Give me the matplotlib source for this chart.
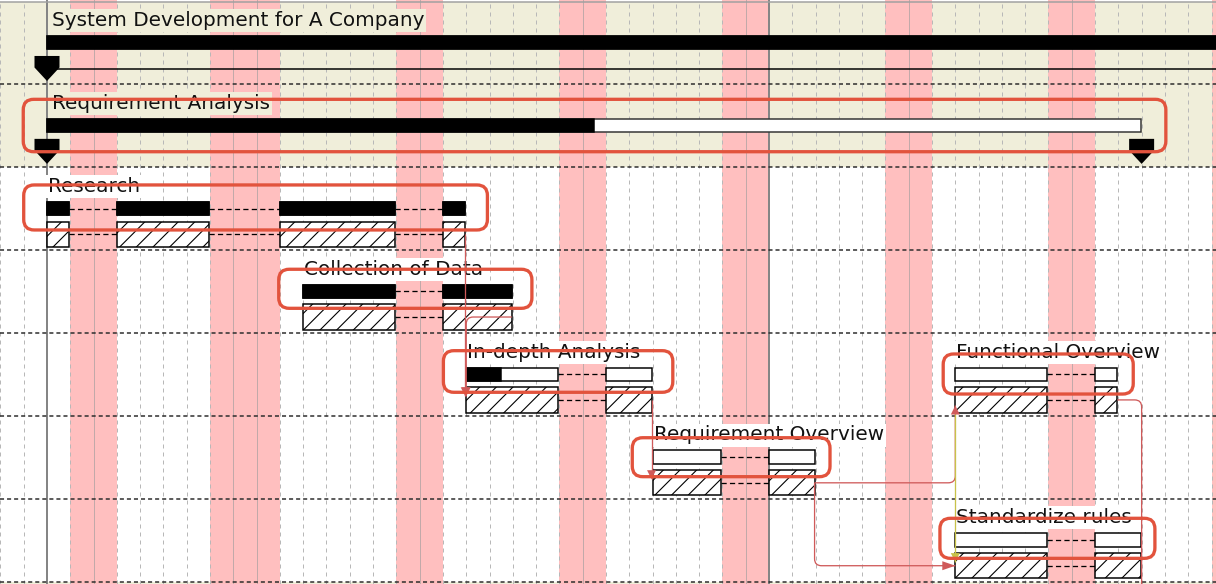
import matplotlib
matplotlib.use("Agg")
import numpy as np
import matplotlib.pyplot as plt
from matplotlib.patches import Rectangle, Polygon, FancyBboxPatch, PathPatch
from matplotlib.path import Path

# calendar: x unit = one day, day 0 = 1st of the month
holidays = [1, 2, 7, 8, 9, 15, 16, 22, 23, 29, 30, 36, 37, 43, 44, 50, 51]
month_starts = [0, 31]
first_day, last_day = -3, 52

# summary rows
summary_names = ["System Development for A Company", "Requirement Analysis"]
summary_rows = [0, 1]
summary_start = [0, 0]
summary_end = [62, 47]
summary_progress = [1.0, 0.5]
summary_marks = [[0], [0, 47]]
summary_baseline = [True, False]

# tasks (length in working days)
task_names = ["Research", "Collection of Data", "In-depth Analysis",
              "Requirement Overview", "Functional Overview", "Standardize rules"]
task_rows = [2, 3, 4, 5, 4, 6]
task_start = [0, 11, 18, 26, 39, 39]
task_days = [11, 7, 6, 5, 5, 6]
task_progress = [1.0, 1.0, 0.25, 0.0, 0.0, 0.0]

# dependencies ("next" = task below the visible area)
link_from = ["Research", "Collection of Data", "In-depth Analysis", "Requirement Overview",
             "Requirement Overview", "Functional Overview", "Functional Overview"]
link_to = ["In-depth Analysis", "In-depth Analysis", "Requirement Overview", "Functional Overview",
           "Standardize rules", "Standardize rules", "next"]
link_kind = ["FS", "FS", "FS", "FS", "FS", "SS", "FS"]
link_route = ["hv", "hv", "hv", "hv", "vh", "hv", "hv"]
link_color = ["#CF5A5A", "#CF5A5A", "#CF5A5A", "#CF5A5A", "#CF5A5A", "#C8C24A", "#CF5A5A"]
next_start, next_row = 47, 8

# hand drawn highlight boxes (days / rows)
hl_x0 = [-1.02, -1.0, 9.95, 17.02, 25.13, 38.48, 38.34]
hl_x1 = [48.04, 18.91, 20.82, 26.87, 33.62, 46.64, 47.57]
hl_y0 = [1.180, 2.213, 3.230, 4.212, 5.262, 4.252, 6.234]
hl_y1 = [1.812, 2.756, 3.701, 4.714, 5.732, 4.735, 6.717]

BEIGE = "#F0EEDA"
PINK = "#FFBFBF"
PX = 1 / 23.29   # one pixel in days
PY = 1 / 82.9    # one pixel in rows
LW = 0.72        # one pixel in points
UP0, UP1 = 0.416, 0.579
LO0, LO1 = 0.654, 0.958
LOM = (LO0 + LO1) / 2

plt.rcParams["hatch.linewidth"] = 0.8

fig = plt.figure(figsize=(12.16, 5.84), dpi=100)
fig.patch.set_facecolor("white")
ax = fig.add_axes([0, 0, 1, 1])
x_left = -47 * PX
y_top = -1.5 * PY
ax.set_xlim(x_left, x_left + 1216 * PX)
ax.set_ylim(y_top + 584 * PY, y_top)
ax.axis("off")

# backgrounds
for r in summary_rows:
    ax.add_patch(Rectangle((first_day, r), last_day - first_day, 1, fc=BEIGE, ec="none", zorder=0))
ax.add_patch(Rectangle((first_day, 7), last_day - first_day, 3, fc=BEIGE, ec="none", zorder=0))
for d in holidays:
    ax.axvspan(d, d + 1, color=PINK, lw=0, zorder=1)

for d in range(first_day, last_day):
    if d in holidays and d - 1 in holidays:
        ax.axvline(d, color="#C2A9A9", lw=LW, zorder=2)
    else:
        ax.axvline(d, color="#B8B8B8", lw=LW, ls=(0, (4, 4)), zorder=2)
for d in month_starts:
    ax.axvline(d, color="#858585", lw=2 * LW, zorder=2.5)

ax.axhline(0, color="#A0A0A0", lw=1.5 * LW, zorder=3)
for r in range(1, 8):
    ax.axhline(r, color="#2A2A2A", lw=1.5 * LW, ls=(0, (2.7, 2)), zorder=3)


def label(x, r, s, bg):
    ax.text(x, r + 24.5 * PY, s, fontsize=14.4, va="baseline", ha="left", color="#111111",
            zorder=4, bbox=dict(boxstyle="square,pad=0.1", fc=bg, ec="none"))


def milestone(x, r):
    w = 12.5 * PX
    pts = [(x - w, r + 0.657), (x + w, r + 0.657), (x + w, r + 0.796), (x, r + 0.959), (x - w, r + 0.796)]
    ax.add_patch(Polygon(pts, closed=True, fc="black", ec="none", zorder=5.5))


def segments(start, days):
    segs, cur, d, left = [], None, start, days
    while left > 0:
        if d in holidays:
            if cur:
                segs.append(cur)
                cur = None
        else:
            if cur is None:
                cur = [d, d + 1]
            else:
                cur[1] = d + 1
            left -= 1
        d += 1
    if cur:
        segs.append(cur)
    return segs


# summary rows
for name, r, s, e, p, marks, base in zip(summary_names, summary_rows, summary_start, summary_end,
                                        summary_progress, summary_marks, summary_baseline):
    label(s + 0.2, r, name, BEIGE)
    ax.add_patch(Rectangle((s, r + UP0), e - s - PX, UP1 - UP0, fc="white", ec="#333333",
                           lw=1.5 * LW, zorder=5))
    ax.add_patch(Rectangle((s, r + UP0), (e - s) * p, UP1 - UP0, fc="black", ec="black",
                           lw=1.5 * LW, zorder=5))
    if base:
        ax.plot([s, e], [r + 0.814] * 2, color="black", lw=1.5 * LW, zorder=5)
    for m in marks:
        milestone(m, r)

# tasks
tasks = {}
for name, r, s, n, p in zip(task_names, task_rows, task_start, task_days, task_progress):
    segs = segments(s, n)
    tasks[name] = dict(row=r, start=segs[0][0], end=segs[-1][1])
    label(s + 0.05, r, name, "white")
    done = n * p
    for i, (a, b) in enumerate(segs):
        ax.add_patch(Rectangle((a, r + UP0), b - a - PX, UP1 - UP0, fc="white", ec="black",
                               lw=1.5 * LW, zorder=5))
        f = min(done, b - a)
        if f > 0:
            ax.add_patch(Rectangle((a, r + UP0), f - (PX if f == b - a else 0), UP1 - UP0,
                                   fc="black", ec="black", lw=1.5 * LW, zorder=5))
        done -= f
        ax.add_patch(Rectangle((a, r + LO0), b - a - PX, LO1 - LO0, fc="white", ec="black",
                               hatch="//", lw=1.5 * LW, zorder=5))
        if i + 1 < len(segs):
            nxt = segs[i + 1][0]
            for y in (r + (UP0 + UP1) / 2, r + LOM):
                ax.plot([b - PX, nxt], [y, y], color="black", lw=1.3 * LW,
                        ls=(0, (4, 2.5)), zorder=4.5)


def rounded(pts, rx, ry):
    verts, codes = [pts[0]], [Path.MOVETO]
    for i in range(1, len(pts) - 1):
        cx, cy = pts[i]
        a, b = pts[i - 1], pts[i + 1]
        verts += [(cx + np.sign(a[0] - cx) * rx, cy + np.sign(a[1] - cy) * ry), (cx, cy),
                  (cx + np.sign(b[0] - cx) * rx, cy + np.sign(b[1] - cy) * ry)]
        codes += [Path.LINETO, Path.CURVE3, Path.CURVE3]
    verts.append(pts[-1])
    codes.append(Path.LINETO)
    return Path(verts, codes)


def arrowhead(tip, direction, color):
    x, y = tip
    L, W = 9, 4.5
    if direction == "down":
        pts = [(x, y), (x - W * PX, y - L * PY), (x + W * PX, y - L * PY)]
    elif direction == "up":
        pts = [(x, y), (x - W * PX, y + L * PY), (x + W * PX, y + L * PY)]
    else:
        pts = [(x, y), (x - 13 * PX, y - W * PY), (x - 13 * PX, y + W * PY)]
    ax.add_patch(Polygon(pts, closed=True, fc=color, ec="none", zorder=7))


# dependency links
for f, t, kind, route, col in zip(link_from, link_to, link_kind, link_route, link_color):
    a = tasks[f]
    r0 = a["row"]
    if kind == "SS":
        x0, y0 = a["start"], r0 + LO1
    else:
        x0, y0 = a["end"] - PX, r0 + LOM
    if t == "next":
        x1, r1 = next_start, next_row
    else:
        x1, r1 = tasks[t]["start"], tasks[t]["row"]
    if abs(x1 - x0) < 2 * PX:
        x1 = x0
    if route == "hv":
        if r1 > r0:
            y1, direction = r1 + LO0 + 9 * PY, "down"
        else:
            y1, direction = r1 + LO1 - 7 * PY, "up"
        pts = [(x0, y0), (x1, y0), (x1, y1)] if x1 != x0 else [(x0, y0), (x1, y1)]
    else:
        y1, direction = r1 + LOM, "right"
        pts = [(x0, y0), (x0, y1), (x1, y1)]
    z = 6.5 if kind == "SS" else 6
    ax.add_patch(PathPatch(rounded(pts, 7 * PX, 7 * PY), fc="none", ec=col, lw=1.3 * LW, zorder=z))
    arrowhead((x1, y1), direction, col)

# highlight boxes
for x0, x1, y0, y1 in zip(hl_x0, hl_x1, hl_y0, hl_y1):
    ax.add_patch(FancyBboxPatch((x0, y0), x1 - x0, y1 - y0,
                                boxstyle="round,pad=0,rounding_size=0.45",
                                mutation_aspect=PY / PX, fc="none", ec="#E2533D",
                                lw=3.3 * LW, zorder=8))

fig.savefig("out.png", dpi=100)
